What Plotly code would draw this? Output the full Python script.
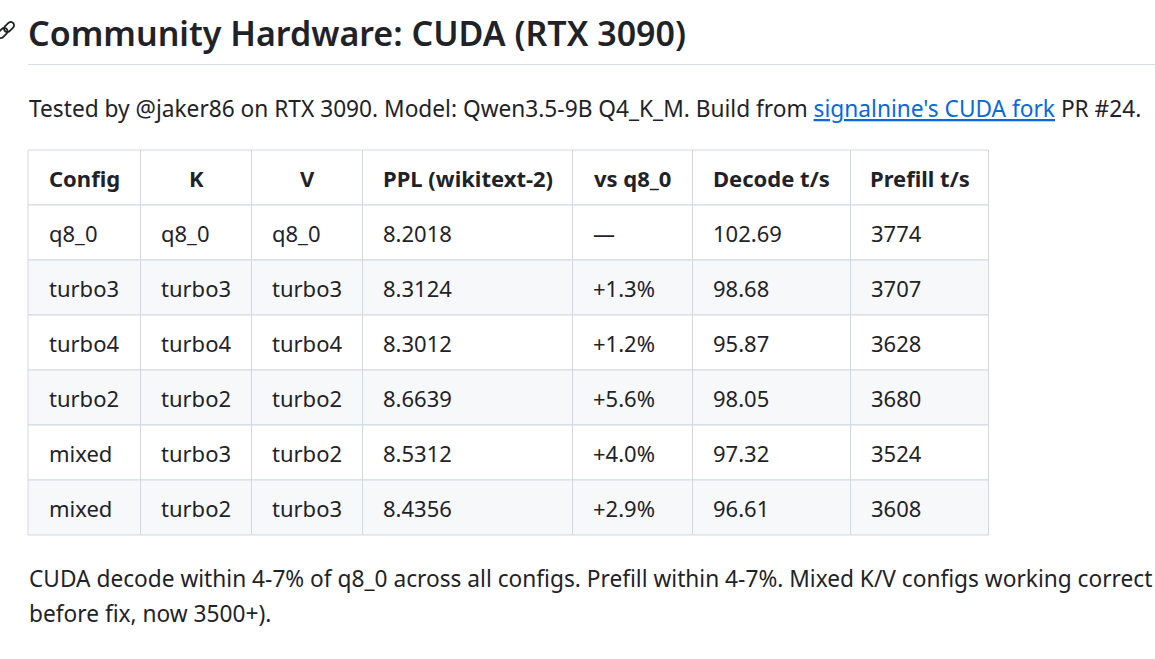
import math
import plotly.graph_objects as go

W, H = 1155, 659

# ---- text and table data ----
title = "Community Hardware: CUDA (RTX 3090)"
intro_before = "Tested by @jaker86 on RTX 3090. Model: Qwen3.5-9B Q4_K_M. Build from "
intro_link = "signalnine's CUDA fork"
intro_after = " PR #24."
outro = ["CUDA decode within 4-7% of q8_0 across all configs. Prefill within 4-7%. Mixed K/V configs working correct",
         "before fix, now 3500+)."]

headers = ["Config", "K", "V", "PPL (wikitext-2)", "vs q8_0", "Decode t/s", "Prefill t/s"]
config = ["q8_0", "turbo3", "turbo4", "turbo2", "mixed", "mixed"]
k_type = ["q8_0", "turbo3", "turbo4", "turbo2", "turbo3", "turbo2"]
v_type = ["q8_0", "turbo3", "turbo4", "turbo2", "turbo2", "turbo3"]
ppl = [8.2018, 8.3124, 8.3012, 8.6639, 8.5312, 8.4356]
vs_q8 = ["—", "+1.3%", "+1.2%", "+5.6%", "+4.0%", "+2.9%"]
decode = [102.69, 98.68, 95.87, 98.05, 97.32, 96.61]
prefill = [3774, 3707, 3628, 3680, 3524, 3608]

# ---- styling ----
FONT = "Noto Sans"
TEXT = "#1f2328"
LINK = "#0969da"
BORDER = "#d1d9e0"
STRIPE = "#f6f8fa"
CELL_SIZE = 22
PARA_SIZE = 22.7
HEAD_SIZE = 34

col_w = [112.5, 111, 111, 210, 120, 158, 138]   # px
tbl_left, tbl_top, row_h, pad = 28, 150, 55, 18.5

rows = [[c, k, v, f"{p:.4f}", s, f"{d:.2f}", str(pf)]
        for c, k, v, p, s, d, pf in zip(config, k_type, v_type, ppl, vs_q8, decode, prefill)]

col_x = [tbl_left]
for w in col_w:
    col_x.append(col_x[-1] + w)


def px(x, y):
    return x / W, 1 - y / H


fig = go.Figure()
# invisible trace so the axes exist
fig.add_trace(go.Scatter(x=[0], y=[0], mode="markers", marker=dict(opacity=0),
                         hoverinfo="skip", showlegend=False))

shapes = []
annotations = []

# table cells: row r centred on y=r (row 0 = header)
n_rows = len(rows) + 1
for r in range(n_rows):
    fill = STRIPE if (r > 0 and r % 2 == 0) else "white"
    for c in range(len(col_w)):
        shapes.append(dict(type="rect", xref="x", yref="y",
                           x0=col_x[c], x1=col_x[c + 1], y0=r - 0.5, y1=r + 0.5,
                           fillcolor=fill, line=dict(color=BORDER, width=1), layer="below"))

for c, h in enumerate(headers):
    annotations.append(dict(xref="x", yref="y", x=(col_x[c] + col_x[c + 1]) / 2, y=0,
                            text="<b>" + h + "</b>", showarrow=False, xanchor="center",
                            yanchor="middle", font=dict(size=CELL_SIZE, color=TEXT)))

for r, row in enumerate(rows, start=1):
    for c, val in enumerate(row):
        annotations.append(dict(xref="x", yref="y", x=col_x[c] + pad, y=r,
                                text=val, showarrow=False, xanchor="left",
                                yanchor="middle", font=dict(size=CELL_SIZE, color=TEXT)))

# heading
hx, hy = px(26, 33)
annotations.append(dict(xref="paper", yref="paper", x=hx, y=hy, text=title, showarrow=False,
                        xanchor="left", yanchor="middle",
                        font=dict(size=HEAD_SIZE, color=TEXT, weight=600)))
x0, y0 = px(28, 64.5)
x1, _ = px(W, 64.5)
shapes.append(dict(type="line", xref="paper", yref="paper", x0=x0, x1=x1, y0=y0, y1=y0,
                   line=dict(color="#d8dee4", width=1)))


# link icon next to the heading (two chain links)
def capsule(cx, cy, length, rad, ang):
    pts = []
    half = length / 2 - rad
    for i in range(0, 181, 15):
        t = math.radians(i - 90)
        pts.append((half + rad * math.cos(t), rad * math.sin(t)))
    for i in range(0, 181, 15):
        t = math.radians(i + 90)
        pts.append((-half + rad * math.cos(t), rad * math.sin(t)))
    a = math.radians(ang)
    out = []
    for x, y in pts:
        X = cx + x * math.cos(a) - y * math.sin(a)
        Y = cy + x * math.sin(a) + y * math.cos(a)
        out.append(px(X, Y))
    return "M" + " L".join(f"{p[0]:.5f},{p[1]:.5f}" for p in out) + " Z"


for cx, cy in [(9.0, 27.0), (2.5, 33.0)]:
    shapes.append(dict(type="path", xref="paper", yref="paper", path=capsule(cx, cy, 11.5, 3.3, -45),
                       line=dict(color=TEXT, width=1.8), fillcolor="rgba(0,0,0,0)"))

# intro paragraph
ix, iy = px(26.5, 108)
annotations.append(dict(xref="paper", yref="paper", x=ix, y=iy, showarrow=False,
                        xanchor="left", yanchor="middle",
                        text=intro_before + "<span style='color:" + LINK +
                        ";text-decoration:underline'>" + intro_link + "</span>" + intro_after,
                        font=dict(size=PARA_SIZE, color=TEXT)))

# closing paragraph
for i, line in enumerate(outro):
    ox, oy = px(26.5, 578 + 35 * i)
    annotations.append(dict(xref="paper", yref="paper", x=ox, y=oy, text=line, showarrow=False,
                            xanchor="left", yanchor="middle",
                            font=dict(size=PARA_SIZE, color=TEXT)))

y_top = -0.5 - tbl_top / row_h
y_bot = -0.5 + (H - tbl_top) / row_h

fig.update_layout(
    width=W, height=H,
    margin=dict(l=0, r=0, t=0, b=0),
    paper_bgcolor="white", plot_bgcolor="white",
    font=dict(family=FONT, color=TEXT),
    xaxis=dict(range=[0, W], visible=False, fixedrange=True),
    yaxis=dict(range=[y_bot, y_top], visible=False, fixedrange=True),
    shapes=shapes, annotations=annotations,
    showlegend=False,
)

# drop the default page margin so the figure sits at the window's corner
fig.write_html("out.html", post_script="document.body.style.margin='0';",
               config={"displayModeBar": False})
